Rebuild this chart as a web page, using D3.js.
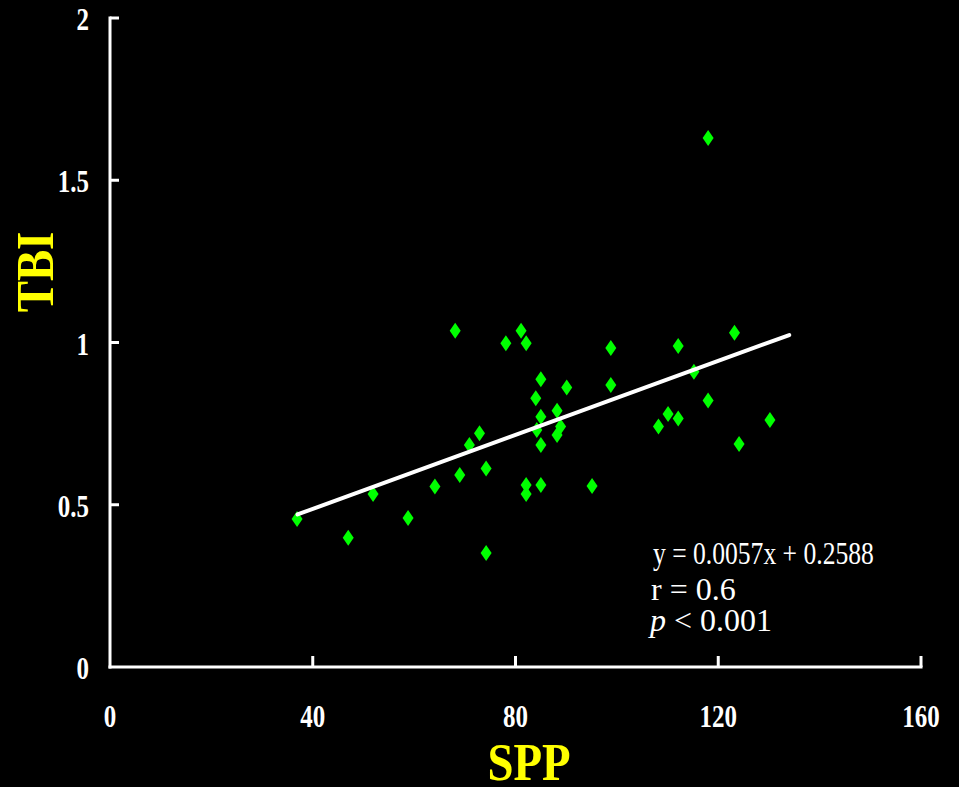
<!DOCTYPE html>
<html>
<head>
<meta charset="utf-8">
<script src="https://cdn.jsdelivr.net/npm/d3@7"></script>
<style>
  html, body { margin: 0; padding: 0; background: #000; }
  svg { display: block; }
</style>
</head>
<body>
<script>
// ---- data ----
const sppValues = [36.9, 47.0, 51.9, 58.8, 64.1, 68.1, 69.0, 70.9, 72.9, 74.2, 74.2, 78.1, 81.1, 82.1, 82.1, 82.1,
  85.0, 84.0, 85.0, 84.2, 85.0, 85.0, 88.2, 88.2, 88.9, 90.1, 95.1, 98.8, 98.8, 108.2, 110.1, 112.1, 112.1,
  115.2, 118.0, 118.0, 123.2, 124.1, 130.2];
const tbiValues = [0.456, 0.398, 0.533, 0.459, 0.556, 1.036, 0.592, 0.684, 0.720, 0.612, 0.351, 0.998, 1.036, 0.998, 0.561, 0.533,
  0.887, 0.828, 0.771, 0.730, 0.684, 0.561, 0.790, 0.715, 0.741, 0.861, 0.558, 0.983, 0.869, 0.741, 0.780, 0.766, 0.989,
  0.910, 1.630, 0.821, 1.030, 0.687, 0.761];
const trendX = [37, 134];
const trendY = [0.47, 1.023];
const xTicks = [0, 40, 80, 120, 160];
const yTicks = [0, 0.5, 1, 1.5, 2];
const yTickLabels = ["0", "0.5", "1", "1.5", "2"];
const xTitle = "SPP";
const yTitle = "TBI";
const annotation = ["y = 0.0057x + 0.2588", "r = 0.6"];

// ---- layout ----
const W = 959, H = 787;
const svg = d3.select("body").append("svg").attr("width", W).attr("height", H)
  .style("background", "#000");

const x = d3.scaleLinear().domain([0, 160]).range([110, 921]);
const y = d3.scaleLinear().domain([0, 2]).range([667, 18]);

const serif = "'Liberation Serif', 'Times New Roman', serif";

// axes lines
svg.append("line").attr("x1", x(0)).attr("x2", x(0)).attr("y1", y(2) - 1.5).attr("y2", y(0) + 1.5)
  .attr("stroke", "#fff").attr("stroke-width", 3);
svg.append("line").attr("x1", x(0) - 1.5).attr("x2", x(160) + 1.5).attr("y1", y(0)).attr("y2", y(0))
  .attr("stroke", "#fff").attr("stroke-width", 3);

// y ticks (inward)
svg.selectAll(".yt").data(yTicks.filter(d => d > 0)).enter().append("line")
  .attr("x1", x(0)).attr("x2", x(0) + 9).attr("y1", d => y(d)).attr("y2", d => y(d))
  .attr("stroke", "#fff").attr("stroke-width", 3);
// x ticks (inward)
svg.selectAll(".xt").data(xTicks.filter(d => d > 0)).enter().append("line")
  .attr("x1", d => x(d)).attr("x2", d => x(d)).attr("y1", y(0)).attr("y2", y(0) - 11)
  .attr("stroke", "#fff").attr("stroke-width", 3);

// y tick labels
svg.selectAll(".yl").data(yTicks).enter().append("text")
  .attr("transform", d => `translate(89,${y(d) + 12}) scale(0.78,1)`)
  .attr("text-anchor", "end")
  .style("font-family", serif).style("font-weight", "bold").style("font-size", "32px")
  .attr("fill", "#fff")
  .text((d, i) => yTickLabels[i]);

// x tick labels
svg.selectAll(".xl").data(xTicks).enter().append("text")
  .attr("transform", d => `translate(${x(d)},727) scale(0.78,1)`)
  .attr("text-anchor", "middle")
  .style("font-family", serif).style("font-weight", "bold").style("font-size", "32px")
  .attr("fill", "#fff")
  .text(d => d);

// axis titles
svg.append("text")
  .attr("transform", `translate(529,780) scale(0.9,1)`)
  .attr("text-anchor", "middle")
  .style("font-family", serif).style("font-weight", "bold").style("font-size", "52px")
  .attr("fill", "#ffff00").text(xTitle);
svg.append("text")
  .attr("transform", `translate(53,272) rotate(-90) scale(0.9,1)`)
  .attr("text-anchor", "middle")
  .style("font-family", serif).style("font-weight", "bold").style("font-size", "52px")
  .attr("fill", "#ffff00").text(yTitle);

// points (diamonds)
const pts = sppValues.map((v, i) => ({ x: v, y: tbiValues[i] }));
const diamond = "M0,-8 L5.5,0 L0,8 L-5.5,0 Z";
svg.selectAll(".pt").data(pts).enter().append("path")
  .attr("d", diamond)
  .attr("transform", d => `translate(${x(d.x)},${y(d.y)})`)
  .attr("fill", "#00ff00");

// trend line
const trend = trendX.map((v, i) => [v, trendY[i]]);
svg.append("path").datum(trend)
  .attr("d", d3.line().x(d => x(d[0])).y(d => y(d[1])))
  .attr("fill", "none").attr("stroke", "#fff").attr("stroke-width", 4).attr("stroke-linecap", "round");

// annotation
const ann = svg.append("g").style("font-family", serif).style("font-size", "32px").attr("fill", "#fff");
ann.append("text").attr("transform", "translate(653,564) scale(0.8,1)").text(annotation[0]);
ann.append("text").attr("transform", "translate(651,600)").text(annotation[1]);
const p = ann.append("text").attr("transform", "translate(650,631)");
p.append("tspan").style("font-style", "italic").text("p");
p.append("tspan").text(" < 0.001");
</script>
</body>
</html>
